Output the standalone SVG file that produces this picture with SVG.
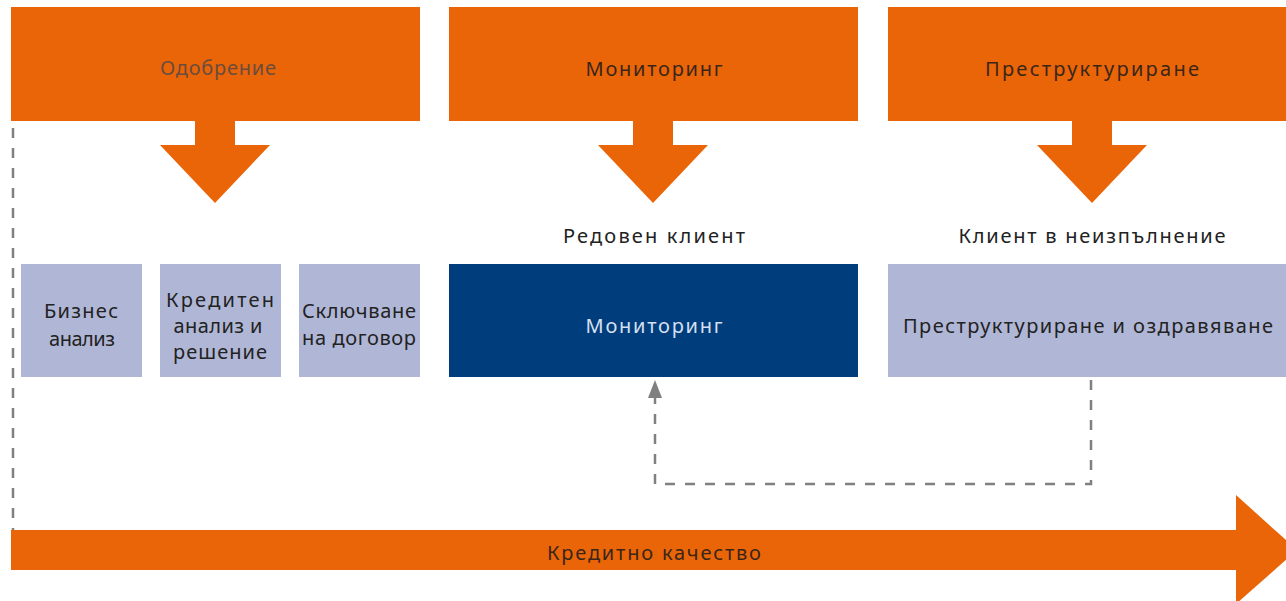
<svg xmlns="http://www.w3.org/2000/svg" width="1286" height="601" viewBox="0 0 1286 601">
<style>
.org{fill:#EA6508}
.lav{fill:#B0B7D6}
.blue{fill:#003D7D}
text{font-family:"Noto Sans","Liberation Sans",sans-serif;font-size:20px;text-anchor:middle}
.dk{fill:#3a2618}
.sm{fill:#222222}
.wt{fill:#D6E0F0}
.dash{fill:none;stroke:#808080;stroke-width:2.5;stroke-dasharray:10 10}
</style>
<g id="connectors">
<line class="dash" x1="13" y1="128" x2="13" y2="530"/>
<polyline class="dash" points="1091,380 1091,484 655,484 655,398"/>
<path d="M655 380 L662 398 L648 398 Z" fill="#808080"/>
</g>
<g id="odobrenie">
<rect class="org" x="11" y="7" width="409" height="114"/>
<polygon class="org" points="195,121 235,121 235,145 270,145 215,203 160,145 195,145"/>
<text x="218" y="75" fill="#6b4c3c" textLength="116" lengthAdjust="spacing">Одобрение</text>
</g>
<g id="monitoring-top">
<rect class="org" x="449" y="7" width="409" height="114"/>
<polygon class="org" points="633,121 673,121 673,145 708,145 653,203 598,145 633,145"/>
<text class="dk" x="654" y="76" textLength="137" lengthAdjust="spacing">Мониторинг</text>
</g>
<g id="restructuring-top">
<rect class="org" x="888" y="7" width="398" height="114"/>
<polygon class="org" points="1072,121 1112,121 1112,145 1147,145 1092,203 1037,145 1072,145"/>
<text class="dk" x="1092" y="76" textLength="214" lengthAdjust="spacing">Преструктуриране</text>
</g>
<g id="label-regular">
<text class="sm" x="654" y="243" textLength="182" lengthAdjust="spacing">Редовен клиент</text>
</g>
<g id="label-default">
<text class="sm" x="1092" y="243" textLength="267" lengthAdjust="spacing">Клиент в неизпълнение</text>
</g>
<g id="biz">
<rect class="lav" x="21" y="264" width="121" height="113"/>
<text class="sm" x="81" y="318" textLength="74" lengthAdjust="spacing">Бизнес</text>
<text class="sm" x="82" y="346" textLength="66" lengthAdjust="spacing">анализ</text>
</g>
<g id="credit">
<rect class="lav" x="160" y="264" width="121" height="113"/>
<text class="sm" x="220" y="307" textLength="108" lengthAdjust="spacing">Кредитен</text>
<text class="sm" x="218" y="333" textLength="89" lengthAdjust="spacing">анализ и</text>
<text class="sm" x="220" y="359" textLength="94" lengthAdjust="spacing">решение</text>
</g>
<g id="contract">
<rect class="lav" x="299" y="264" width="121" height="113"/>
<text class="sm" x="359" y="318" textLength="114" lengthAdjust="spacing">Сключване</text>
<text class="sm" x="359" y="345" textLength="114" lengthAdjust="spacing">на договор</text>
</g>
<g id="monitoring">
<rect class="blue" x="449" y="264" width="409" height="113"/>
<text class="wt" x="654" y="333" textLength="137" lengthAdjust="spacing">Мониторинг</text>
</g>
<g id="restructuring">
<rect class="lav" x="888" y="264" width="398" height="113"/>
<text class="sm" x="1088" y="333" textLength="370" lengthAdjust="spacing">Преструктуриране и оздравяване</text>
</g>
<g id="credit-quality">
<polygon class="org" points="11,530 1236,530 1236,495 1297,550 1236,604 1236,570 11,570"/>
<text class="dk" x="654" y="560" textLength="214" lengthAdjust="spacing">Кредитно качество</text>
</g>
</svg>
